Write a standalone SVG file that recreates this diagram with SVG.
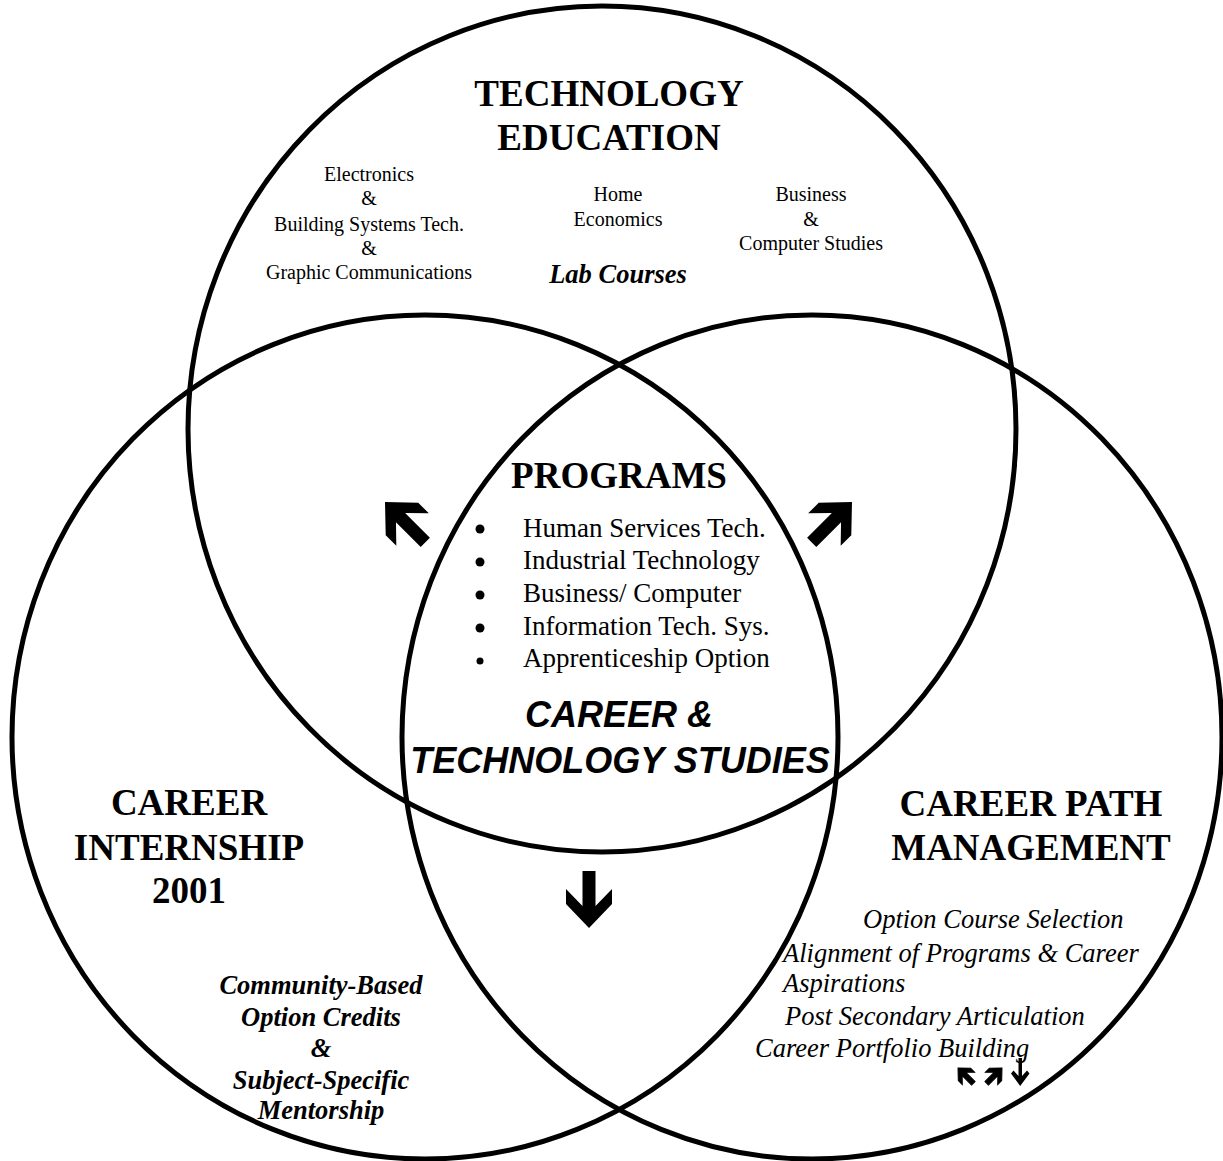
<svg xmlns="http://www.w3.org/2000/svg" width="1223" height="1161" viewBox="0 0 1223 1161">
<style>
.c{fill:none;stroke:#000;stroke-width:5}
.h{font-family:"Liberation Serif","Times New Roman",serif;font-weight:bold;font-size:37px;text-anchor:middle;fill:#000}
.s{font-family:"Liberation Serif","Times New Roman",serif;font-size:20px;text-anchor:middle;fill:#000}
.li{font-family:"Liberation Serif","Times New Roman",serif;font-size:27px;fill:#000}
.bi{font-family:"Liberation Serif","Times New Roman",serif;font-weight:bold;font-style:italic;font-size:26.5px;text-anchor:middle;fill:#000}
.it{font-family:"Liberation Serif","Times New Roman",serif;font-style:italic;font-size:26.5px;fill:#000}
.cts{font-family:"Liberation Sans",Arial,sans-serif;font-weight:bold;font-style:italic;font-size:36px;text-anchor:middle;fill:#000}
.sa{stroke:#000;stroke-width:2.5;stroke-linejoin:miter}
</style>
<defs>
<polygon id="arr" points="-6.5,-57 6.5,-57 6.5,-22 23,-39 23,-24 0,0 -23,-24 -23,-39 -6.5,-22" fill="#000"/>
</defs>
<rect width="1223" height="1161" fill="#fff"/>
<g id="connectors">
<use href="#arr" transform="translate(589,928)"/>
<use href="#arr" transform="translate(385,502) rotate(135) scale(1.0)"/>
<use href="#arr" transform="translate(852,502) rotate(-135) scale(1.0)"/>
<use href="#arr" class="sa" transform="translate(958,1068) rotate(135) scale(0.38)"/>
<use href="#arr" class="sa" transform="translate(1002,1068) rotate(-135) scale(0.38)"/>
<polygon points="1018.5,1058 1022,1058 1022,1076 1027,1070.5 1029.5,1073.5 1020.2,1086 1011,1073.5 1013.5,1070.5 1018.5,1076" fill="#000"/>
</g>
<g id="technology-education">
<ellipse class="c" cx="602" cy="429" rx="414" ry="423"/>
<text class="h" x="609" y="106">TECHNOLOGY</text>
<text class="h" x="609" y="150">EDUCATION</text>
<text class="s" x="369" y="181">Electronics</text>
<text class="s" x="369" y="205">&amp;</text>
<text class="s" x="369" y="231">Building Systems Tech.</text>
<text class="s" x="369" y="255">&amp;</text>
<text class="s" x="369" y="279">Graphic Communications</text>
<text class="s" x="618" y="201">Home</text>
<text class="s" x="618" y="226">Economics</text>
<text class="s" x="811" y="201">Business</text>
<text class="s" x="811" y="226">&amp;</text>
<text class="s" x="811" y="250">Computer Studies</text>
<text class="bi" x="618" y="283">Lab Courses</text>
</g>
<g id="career-internship">
<ellipse class="c" cx="425" cy="737" rx="413" ry="422"/>
<text class="h" x="189" y="815">CAREER</text>
<text class="h" x="189" y="860">INTERNSHIP</text>
<text class="h" x="189" y="903">2001</text>
<text class="bi" x="321" y="994">Community-Based</text>
<text class="bi" x="321" y="1026">Option Credits</text>
<text class="bi" x="321" y="1057">&amp;</text>
<text class="bi" x="321" y="1089">Subject-Specific</text>
<text class="bi" x="321" y="1119">Mentorship</text>
</g>
<g id="career-path-management">
<ellipse class="c" cx="812" cy="737" rx="410" ry="422"/>
<text class="h" x="1031" y="816">CAREER PATH</text>
<text class="h" x="1031" y="860">MANAGEMENT</text>
<text class="it" x="863" y="928">Option Course Selection</text>
<text class="it" x="783" y="962">Alignment of Programs &amp; Career</text>
<text class="it" x="783" y="992">Aspirations</text>
<text class="it" x="785" y="1025">Post Secondary Articulation</text>
<text class="it" x="755" y="1057">Career Portfolio Building</text>
</g>
<g id="programs">
<text class="h" x="619" y="488">PROGRAMS</text>
<circle cx="480" cy="529" r="4.5"/>
<circle cx="480" cy="562" r="4.5"/>
<circle cx="480" cy="595" r="4.5"/>
<circle cx="480" cy="628" r="4.5"/>
<circle cx="480" cy="661" r="3.5"/>
<text class="li" x="523" y="537">Human Services Tech.</text>
<text class="li" x="523" y="569">Industrial Technology</text>
<text class="li" x="523" y="602">Business/ Computer</text>
<text class="li" x="523" y="635">Information Tech. Sys.</text>
<text class="li" x="523" y="667">Apprenticeship Option</text>
<text class="cts" x="619" y="727">CAREER &amp;</text>
<text class="cts" x="620" y="773">TECHNOLOGY STUDIES</text>
</g>
</svg>
